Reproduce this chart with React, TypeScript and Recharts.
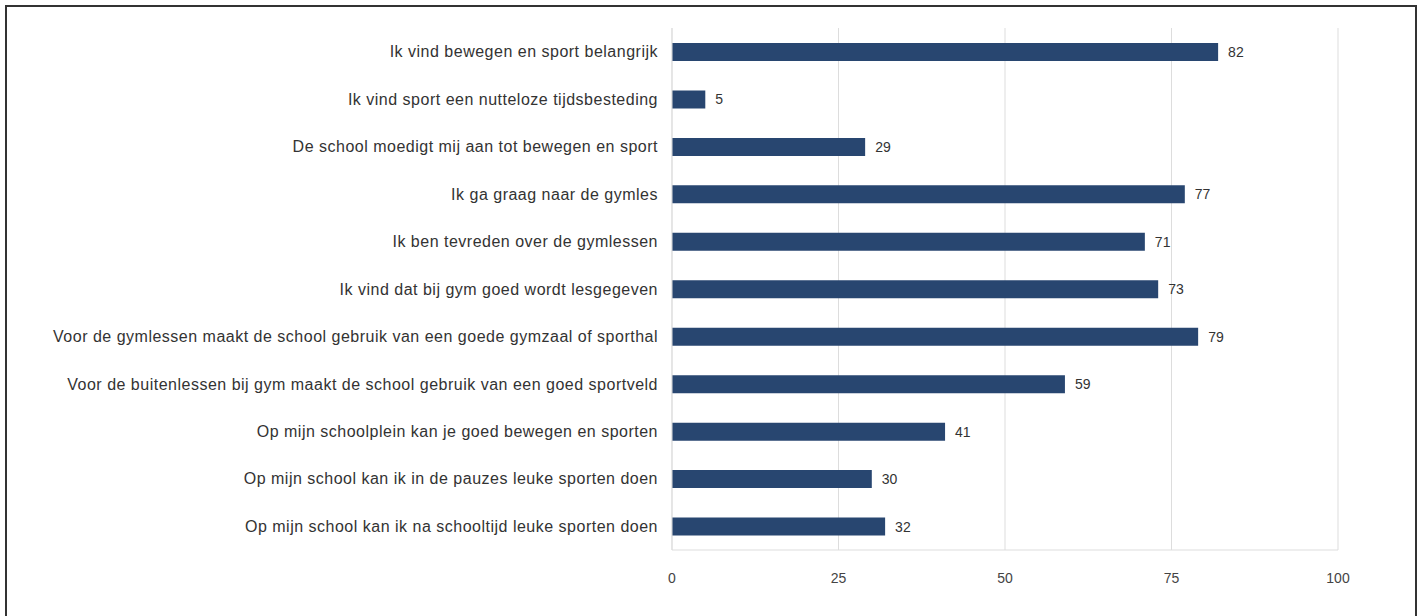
import React from "react";
import { BarChart, Bar, XAxis, YAxis, CartesianGrid, LabelList } from "recharts";

const categories = [
  "Ik vind bewegen en sport belangrijk",
  "Ik vind sport een nutteloze tijdsbesteding",
  "De school moedigt mij aan tot bewegen en sport",
  "Ik ga graag naar de gymles",
  "Ik ben tevreden over de gymlessen",
  "Ik vind dat bij gym goed wordt lesgegeven",
  "Voor de gymlessen maakt de school gebruik van een goede gymzaal of sporthal",
  "Voor de buitenlessen bij gym maakt de school gebruik van een goed sportveld",
  "Op mijn schoolplein kan je goed bewegen en sporten",
  "Op mijn school kan ik in de pauzes leuke sporten doen",
  "Op mijn school kan ik na schooltijd leuke sporten doen",
];
const values = [82, 5, 29, 77, 71, 73, 79, 59, 41, 30, 32];
const xTicks = [0, 25, 50, 75, 100];

const data = categories.map((c, i) => ({ name: c, value: values[i] }));

const FONT = "'Liberation Sans', Arial, sans-serif";

export default function App() {
  return (
    <div style={{ position: "absolute", left: 0, top: 0, width: 1426, height: 616, background: "#fff", fontFamily: FONT }}>
      <div style={{ position: "absolute", left: 5, top: 5, width: 1412, height: 640, border: "2px solid #333", boxSizing: "border-box" }} />
      <div style={{ position: "absolute", left: 0, top: 0 }}>
        <BarChart
          width={1426}
          height={616}
          data={data}
          layout="vertical"
          margin={{ top: 28, right: 88, bottom: 36, left: 0 }}
          barCategoryGap={0}
        >
          <CartesianGrid horizontal={false} stroke="#dddddd" />
          <XAxis
            type="number"
            domain={[0, 100]}
            ticks={xTicks}
            axisLine={{ stroke: "#dddddd" }}
            tickLine={false}
            tickMargin={17}
            tick={{ fontSize: 14, fill: "#444", fontFamily: FONT }}
          />
          <YAxis
            type="category"
            dataKey="name"
            width={672}
            axisLine={{ stroke: "#dddddd" }}
            tickLine={false}
            tickMargin={8}
            interval={0}
            tick={{ fontSize: 16, fill: "#333", fontFamily: FONT, letterSpacing: 0.5 }}
          />
          <Bar dataKey="value" fill="#284670" barSize={18} isAnimationActive={false}>
            <LabelList dataKey="value" position="right" offset={10} style={{ fontSize: 14, fill: "#333", fontFamily: FONT }} />
          </Bar>
        </BarChart>
      </div>
    </div>
  );
}
